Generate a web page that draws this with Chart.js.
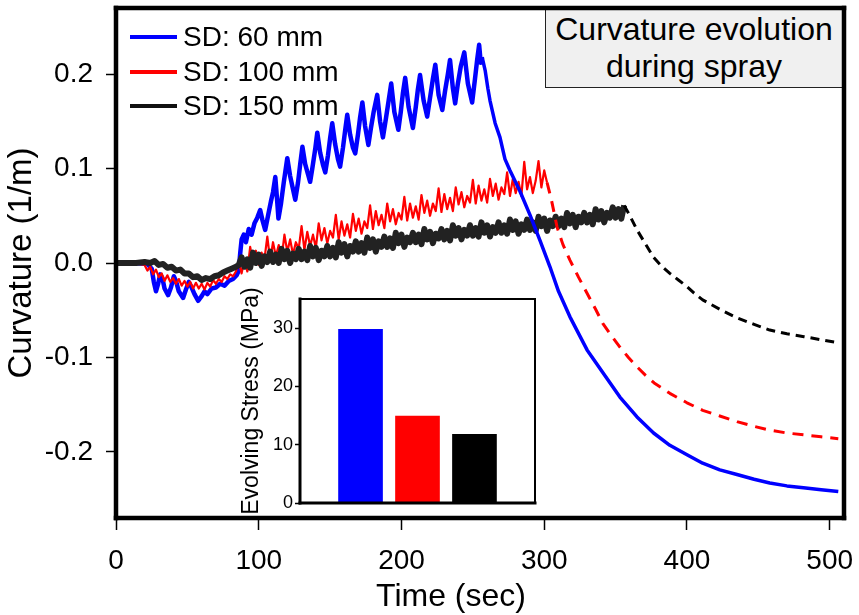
<!DOCTYPE html>
<html>
<head>
<meta charset="utf-8">
<script src="https://cdn.jsdelivr.net/npm/chart.js@4.4.1/dist/chart.umd.min.js"></script>
<style>
  html, body { margin: 0; padding: 0; background: #fff; }
  #wrap { position: relative; width: 859px; height: 615px; overflow: hidden;
          font-family: "Liberation Sans", Arial, sans-serif; color: #000; }
  #main { position: absolute; left: 0; top: 0; z-index: 1; }
  #inset { position: absolute; left: 235px; top: 280px; z-index: 2; }
  #note { position: absolute; left: 545px; top: 9px; width: 296px; height: 76px;
          padding-top: 1px; border: 1.5px solid #222; background: #f0f0f0;
          z-index: 0; text-align: center; font-size: 32px; line-height: 37px; }
  #legend { position: absolute; left: 130px; top: 20px; z-index: 3; }
  #legend .item { display: flex; align-items: center; height: 34.5px;
                  font-size: 28px; white-space: nowrap; }
  #legend .swatch { display: inline-block; width: 47px; height: 4px; margin-right: 6px; }
  #xtitle { position: absolute; left: 351px; top: 576px; width: 200px; z-index: 3;
            text-align: center; font-size: 32px; line-height: 38px; }
</style>
</head>
<body>
<div id="wrap">
  <div id="note">Curvature evolution<br>during spray</div>
  <canvas id="main" width="859" height="615"></canvas>
  <canvas id="inset" width="305" height="240"></canvas>
  <div id="legend"></div>
  <div id="xtitle">Time (sec)</div>
</div>
<script>
// ---- series labels and colours ----
const seriesNames = ['SD: 60 mm', 'SD: 100 mm', 'SD: 150 mm'];
const seriesColors = ['#0000ff', '#ff0000', '#222222'];

// ---- axis ticks ----
const timeTicks = [0, 100, 200, 300, 400, 500];
const curvatureTicks = [-0.2, -0.1, 0.0, 0.1, 0.2];
const stressTicks = [0, 10, 20, 30];

// ---- SD 60 mm : curvature (1/m) vs time (s) ----
const sd60Spray = [
  [0,0],[12,0],[22,-0.001],[25,-0.006],[26.5,-0.02],[28,-0.03],[29.5,-0.022],[31,-0.012],
  [32.5,-0.016],[34,-0.027],[36.5,-0.034],[38.5,-0.026],[40.5,-0.014],[42,-0.019],[44,-0.03],
  [47,-0.037],[49,-0.028],[51,-0.02],[53,-0.026],[55,-0.033],[57.5,-0.04],[60,-0.035],
  [62,-0.03],[64,-0.033],[67,-0.027],[70,-0.026],[73,-0.022],[76,-0.024],[79,-0.019],
  [82,-0.017],[84.5,-0.013],[86,-0.008],[87,0.01],[88,0.025],[89.5,0.03],[91,0.022],
  [93,0.036],[95,0.03],[97,0.042],[99,0.048],[101,0.056],[102.5,0.046],[104.5,0.035],
  [106.5,0.05],[108.5,0.065],[110,0.075],[111.6,0.091],[112.8,0.068],[113.8,0.047],
  [115.5,0.062],[117.5,0.085],[120,0.111],[122,0.092],[124,0.078],[125.6,0.067],
  [127.5,0.085],[129,0.104],[130.6,0.123],[132.5,0.105],[134.5,0.094],[136,0.086],
  [137.5,0.1],[139.5,0.12],[141,0.138],[143,0.117],[145,0.104],[146.6,0.096],
  [148.5,0.114],[150,0.132],[151.5,0.148],[153.5,0.126],[155.5,0.11],[157,0.102],
  [159,0.122],[160.5,0.14],[162,0.157],[164,0.136],[166,0.122],[167.6,0.116],
  [169.5,0.136],[171,0.154],[172.6,0.17],[174.5,0.145],[176.8,0.125],[178.5,0.142],
  [180.5,0.16],[183,0.178],[185,0.15],[187,0.133],[189,0.152],[191,0.172],[192.8,0.19],
  [195,0.16],[197.8,0.141],[199.5,0.16],[201,0.18],[202.6,0.196],[205,0.165],[208,0.143],
  [210,0.165],[211.5,0.184],[213,0.199],[215.5,0.172],[218,0.155],[220,0.175],[222,0.195],
  [223.7,0.21],[226,0.178],[228.6,0.162],[230.5,0.182],[232.5,0.2],[234,0.215],[236,0.185],
  [237.6,0.169],[239.5,0.19],[241.5,0.208],[244,0.223],[246.5,0.19],[249.5,0.17],
  [251.5,0.195],[253,0.215],[254.4,0.231],[255.5,0.212],[256.5,0.218]
];
const sd60Cooling = [
  [256.5,0.218],[258.6,0.204],[260.5,0.185],[262,0.172],[265.6,0.148],[269,0.133],
  [272.5,0.11],[276,0.098],[283,0.076],[290,0.051],[297,0.024],[304,-0.004],[310,-0.03],
  [318,-0.057],[330,-0.092],[341,-0.116],[353,-0.142],[365,-0.163],[376.6,-0.18],
  [388,-0.193],[400,-0.203],[411,-0.212],[423,-0.219],[435,-0.224],[447,-0.229],
  [458,-0.233],[470,-0.236],[481.6,-0.238],[494,-0.24],[506,-0.242]
];

// ---- SD 100 mm ----
const sd100Start = [
  [0,0],[12,0],[20,-0.002],[22,-0.008],[24,-0.004],[26,-0.012],[28,-0.007],[30,-0.015],
  [32,-0.011],[34,-0.019],[36,-0.013],[38,-0.02],[40,-0.016],[42,-0.022],[44,-0.017],
  [46,-0.024],[48,-0.019],[50,-0.025],[52,-0.02],[54,-0.027],[56,-0.021],[58,-0.027],
  [60,-0.022],[62,-0.028],[64,-0.021],[66,-0.025],[68,-0.018],[70,-0.022],[72,-0.017],
  [74,-0.02],[76,-0.014],[78,-0.017],[80,-0.012],[82,-0.014],[84,-0.009]
];
// logged every 2 s from t = 86 s while spraying
const sd100SprayT0 = 86, sd100SprayDt = 2;
const sd100Spray = [
  0.001, -0.011, 0.004, -0.009, 0.017, 0.000, 0.013, -0.002, 0.011, 0.004,
  0.028, 0.003, 0.022, 0.007, 0.019, 0.005, 0.030, 0.012, 0.025, 0.009,
  0.022, 0.015, 0.039, 0.014, 0.033, 0.018, 0.030, 0.016, 0.042, 0.024,
  0.037, 0.021, 0.034, 0.027, 0.051, 0.025, 0.044, 0.029, 0.041, 0.027,
  0.052, 0.034, 0.047, 0.031, 0.044, 0.037, 0.061, 0.036, 0.055, 0.040,
  0.051, 0.037, 0.063, 0.044, 0.057, 0.041, 0.053, 0.046, 0.070, 0.045,
  0.063, 0.048, 0.060, 0.046, 0.072, 0.053, 0.066, 0.050, 0.063, 0.055,
  0.079, 0.054, 0.073, 0.057, 0.069, 0.055, 0.080, 0.062, 0.075, 0.059,
  0.071, 0.064, 0.088, 0.063, 0.082, 0.066, 0.078, 0.064, 0.089, 0.071,
  0.084, 0.067, 0.080, 0.073, 0.096, 0.071, 0.089, 0.074, 0.086, 0.071,
  0.107, 0.078, 0.091, 0.074, 0.087, 0.108, 0.080, 0.098, 0.085
];
const sd100Cooling = [
  [302,0.085],[305,0.067],[309,0.038],[313,0.02],[318,0.003],[324,-0.015],[330,-0.032],
  [336,-0.049],[341,-0.064],[347,-0.077],[353,-0.089],[359,-0.1],[365,-0.11],[371,-0.119],
  [377,-0.127],[383,-0.133],[388,-0.138],[400,-0.148],[411,-0.156],[423,-0.162],
  [435,-0.168],[447,-0.173],[458,-0.177],[470,-0.18],[482,-0.182],[494,-0.184],[506,-0.186]
];

// ---- SD 150 mm ----
const sd150Start = [
  [0,0],[14,0],[20,0.001],[24,0.0],[27,0.002],[30,-0.002],[33,-0.001],[36,-0.005],
  [39,-0.004],[42,-0.008],[45,-0.007],[48,-0.011],[51,-0.011],[54,-0.015],[57,-0.014],
  [60,-0.018],[63,-0.016],[66,-0.017],[69,-0.014],[72,-0.013],[75,-0.01],[78,-0.008],
  [81,-0.006],[84,-0.004],[86,-0.002]
];
// logged every 2 s from t = 88 s while spraying
const sd150SprayT0 = 88, sd150SprayDt = 2;
const sd150Spray = [
  0.006, -0.004, 0.004, -0.005, 0.011, 0.000, 0.009, -0.003, 0.007, 0.001,
  0.012, 0.001, 0.009, 0.000, 0.015, 0.004, 0.013, 0.000, 0.010, 0.004,
  0.015, 0.004, 0.012, 0.003, 0.018, 0.007, 0.016, 0.003, 0.013, 0.007,
  0.018, 0.007, 0.016, 0.006, 0.022, 0.011, 0.020, 0.007, 0.018, 0.012,
  0.023, 0.012, 0.021, 0.011, 0.027, 0.016, 0.025, 0.012, 0.023, 0.017,
  0.028, 0.017, 0.026, 0.016, 0.032, 0.021, 0.030, 0.017, 0.027, 0.022,
  0.032, 0.022, 0.030, 0.020, 0.036, 0.025, 0.033, 0.021, 0.031, 0.026,
  0.036, 0.025, 0.034, 0.024, 0.040, 0.029, 0.037, 0.025, 0.035, 0.029,
  0.040, 0.029, 0.037, 0.028, 0.043, 0.032, 0.040, 0.028, 0.038, 0.032,
  0.043, 0.032, 0.040, 0.031, 0.046, 0.035, 0.044, 0.031, 0.041, 0.035,
  0.046, 0.035, 0.043, 0.034, 0.049, 0.039, 0.047, 0.034, 0.045, 0.039,
  0.049, 0.039, 0.047, 0.038, 0.053, 0.042, 0.051, 0.038, 0.049, 0.043,
  0.053, 0.043, 0.051, 0.041, 0.057, 0.046, 0.055, 0.043, 0.053, 0.048,
  0.059, 0.048, 0.057, 0.047, 0.061
];
const sd150Cooling = [
  [356,0.061],[360,0.05],[365,0.035],[371,0.02],[376.6,0.006],[382,-0.003],[388,-0.011],
  [394,-0.018],[400,-0.025],[405,-0.032],[411,-0.039],[423,-0.049],[435,-0.058],
  [447,-0.065],[458,-0.071],[470,-0.075],[482,-0.078],[493,-0.081],[504,-0.084]
];

// ---- inset: evolving stress (MPa) per stand-off distance ----
const stressValues = [29.8, 14.9, 11.8];

// ---- helpers ----
const pts = pairs => pairs.map(([x, y]) => ({ x, y }));
const logged = (t0, dt, values) => values.map((y, i) => ({ x: t0 + i * dt, y }));
const line = (data, color, width, dash) => ({
  data, borderColor: color, borderWidth: width, borderDash: dash || [],
  pointRadius: 0, fill: false, tension: 0, borderJoinStyle: 'round', borderCapStyle: 'butt'
});
// keep the plotting area exactly where the axis boxes put it
const noEdgePadding = s => { s.paddingTop = 0; s.paddingBottom = 0; s.paddingLeft = 0; s.paddingRight = 0; };

// legend (HTML)
const legendEl = document.getElementById('legend');
seriesNames.forEach((name, i) => {
  const item = document.createElement('div');
  item.className = 'item';
  const sw = document.createElement('span');
  sw.className = 'swatch';
  sw.style.background = seriesColors[i] === '#222222' ? '#111' : seriesColors[i];
  item.appendChild(sw);
  item.appendChild(document.createTextNode(name));
  legendEl.appendChild(item);
});

Chart.defaults.font.family = '"Liberation Sans", Arial, sans-serif';
Chart.defaults.color = '#000';

// frame around the plotting area
const framePlugin = {
  id: 'frame',
  beforeDatasetsDraw(chart, args, opts) {
    if (!opts.fill) return;
    const a = chart.chartArea;
    chart.ctx.save();
    chart.ctx.fillStyle = opts.fill;
    chart.ctx.fillRect(a.left, a.top, a.right - a.left, a.bottom - a.top);
    chart.ctx.restore();
  },
  afterDatasetsDraw(chart, args, opts) {
    const { ctx } = chart;
    const a = chart.chartArea;
    const [wt, wr, wb, wl] = opts.widths;
    ctx.save();
    ctx.strokeStyle = '#000';
    ctx.lineCap = 'square';
    const seg = (w, x1, y1, x2, y2) => {
      ctx.lineWidth = w; ctx.beginPath(); ctx.moveTo(x1, y1); ctx.lineTo(x2, y2); ctx.stroke();
    };
    seg(wt, a.left, a.top, a.right, a.top);
    seg(wr, a.right, a.top, a.right, a.bottom);
    seg(wb, a.left, a.bottom, a.right, a.bottom);
    seg(wl, a.left, a.top, a.left, a.bottom);
    ctx.restore();
  }
};

// main curvature chart (first dataset is drawn on top)
new Chart(document.getElementById('main'), {
  type: 'line',
  data: {
    datasets: [
      line(pts(sd60Cooling), seriesColors[0], 3.5),
      line(pts(sd100Cooling), seriesColors[1], 3, [11, 8]),
      line(pts(sd150Cooling), '#000', 3, [9, 6]),
      line(pts(sd150Start).concat(logged(sd150SprayT0, sd150SprayDt, sd150Spray)), seriesColors[2], 6),
      line(pts(sd100Start).concat(logged(sd100SprayT0, sd100SprayDt, sd100Spray)), seriesColors[1], 2.2),
      line(pts(sd60Spray), seriesColors[0], 4.5)
    ]
  },
  options: {
    responsive: false,
    animation: false,
    events: [],
    layout: { padding: { top: 8, right: 15, left: 0, bottom: 0 } },
    scales: {
      x: {
        type: 'linear', min: 0, max: 510,
        afterBuildTicks: ax => { ax.ticks = timeTicks.map(v => ({ value: v })); },
        afterFit: s => { s.height = 97; noEdgePadding(s); },
        ticks: { font: { size: 28 }, padding: 14, maxRotation: 0, autoSkip: false },
        grid: { drawOnChartArea: false, drawTicks: true, tickLength: 12, tickWidth: 1.5, tickColor: '#000' },
        border: { display: false }
      },
      y: {
        type: 'linear', min: -0.27, max: 0.27,
        afterBuildTicks: ax => { ax.ticks = curvatureTicks.map(v => ({ value: v })); },
        afterFit: s => { s.width = 116; noEdgePadding(s); },
        ticks: { font: { size: 28 }, padding: 13, callback: v => Number(v).toFixed(1) },
        title: { display: true, text: 'Curvature (1/m)', font: { size: 33 }, padding: { top: 2, bottom: 0 } },
        grid: { drawOnChartArea: false, drawTicks: true, tickLength: 10, tickWidth: 1.5, tickColor: '#000' },
        border: { display: false }
      }
    },
    plugins: {
      legend: { display: false },
      tooltip: { enabled: false },
      frame: { widths: [4.5, 4.5, 4.5, 4.5] }
    }
  },
  plugins: [framePlugin]
});

// inset bar chart of evolving stress
new Chart(document.getElementById('inset'), {
  type: 'bar',
  data: {
    labels: seriesNames,
    datasets: [{
      data: stressValues.map((v, i) => ({ x: i + 1, y: v })),
      backgroundColor: ['#0000ff', '#ff0000', '#000000'],
      borderWidth: 0,
      barThickness: 44
    }]
  },
  options: {
    responsive: false,
    animation: false,
    events: [],
    layout: { padding: { top: 19, right: 5, left: 0, bottom: 17 } },
    scales: {
      x: { type: 'linear', min: 0.35, max: 3.65, display: false },
      y: {
        min: 0, max: 35,
        afterBuildTicks: ax => { ax.ticks = stressTicks.map(v => ({ value: v })); },
        afterFit: s => { s.width = 65; noEdgePadding(s); },
        ticks: { font: { size: 18 }, padding: 2 },
        title: { display: true, text: 'Evolving Stress (MPa)', font: { size: 23 }, padding: { top: 3, bottom: 0 } },
        grid: { drawOnChartArea: false, drawTicks: true, tickLength: 5, tickWidth: 1.5, tickColor: '#000' },
        border: { display: false }
      }
    },
    plugins: {
      legend: { display: false },
      tooltip: { enabled: false },
      frame: { widths: [2, 2, 3, 3], fill: '#ffffff' }
    }
  },
  plugins: [framePlugin]
});
</script>
</body>
</html>
